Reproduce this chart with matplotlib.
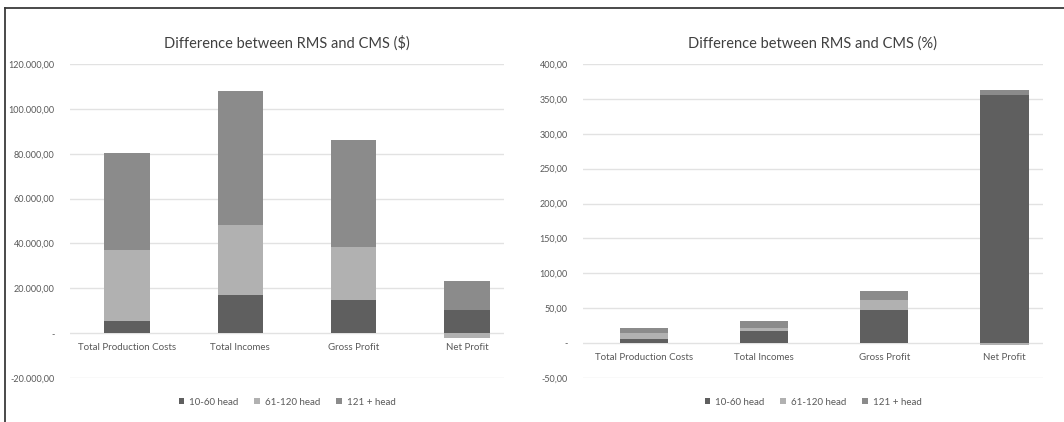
"""Two stacked bar charts: RMS vs CMS difference in $ and in %."""

import matplotlib.pyplot as plt
from matplotlib.lines import Line2D
from matplotlib.ticker import FuncFormatter

CATEGORIES = ["Total Production Costs", "Total Incomes", "Gross Profit", "Net Profit"]
SERIES = ["10-60 head", "61-120 head", "121 + head"]

USD_10_60 = [5400, 17000, 14900, 10100]
USD_61_120 = [31600, 31200, 23700, -2200]
USD_121 = [43100, 59700, 47700, 13100]

PCT_10_60 = [6.5, 17, 48, 356]
PCT_61_120 = [7.5, 5, 14, -3]
PCT_121 = [7.5, 9, 13, 7]

COLORS = ["#5f5f5f", "#b1b1b1", "#8b8b8b"]
TEXT = "#595959"
GRID = "#e2e2e2"

plt.rcParams["font.family"] = ["Lato", "DejaVu Sans"]


def euro_fmt(v, _pos=None):
    if abs(v) < 1e-9:
        return "-"
    s = f"{v:,.2f}"
    return s.replace(",", "X").replace(".", ",").replace("X", ".")


def stacked(ax, series_values, ylim, ticks, title, xlim):
    pos_bottom = [0.0] * len(CATEGORIES)
    neg_bottom = [0.0] * len(CATEGORIES)
    xs = list(range(len(CATEGORIES)))
    for vals, color, name in zip(series_values, COLORS, SERIES):
        bottoms = [pb if v >= 0 else nb for v, pb, nb in zip(vals, pos_bottom, neg_bottom)]
        ax.bar(xs, vals, bottom=bottoms, width=0.4, color=color, label=name,
               zorder=3, linewidth=0)
        for i, v in enumerate(vals):
            if v >= 0:
                pos_bottom[i] += v
            else:
                neg_bottom[i] += v

    ax.set_ylim(*ylim)
    ax.set_xlim(*xlim)
    ax.set_yticks(ticks)
    ax.yaxis.set_major_formatter(FuncFormatter(euro_fmt))
    ax.tick_params(axis="y", length=0, labelsize=6.5, labelcolor=TEXT, pad=11)
    ax.set_xticks([])
    for t in ticks:
        ax.axhline(t, color=GRID, linewidth=1.0, zorder=1)
    for side in ax.spines.values():
        side.set_visible(False)
    for x, name in zip(xs, CATEGORIES):
        ax.annotate(name, (x, 0), xytext=(0, -7), textcoords="offset points",
                    ha="center", va="top", fontsize=7, color=TEXT)
    ax.set_title(title, fontsize=10.5, color="#404040", pad=12)
    ax.legend(loc="upper center", bbox_to_anchor=(0.5, -0.035), ncol=3,
              frameon=False, fontsize=7, handlelength=0.6, handleheight=0.6,
              handletextpad=0.5, columnspacing=1.6, labelcolor=TEXT)


fig = plt.figure(figsize=(10.64, 4.22), dpi=100)

ax_usd = fig.add_axes([70 / 1064, 44 / 422, 434 / 1064, 314 / 422])
stacked(ax_usd, [USD_10_60, USD_61_120, USD_121], (-20000, 120000),
        list(range(-20000, 120001, 20000)),
        "Difference between RMS and CMS ($)", (-0.503, 3.327))

ax_pct = fig.add_axes([583 / 1064, 44 / 422, 460 / 1064, 314 / 422])
stacked(ax_pct, [PCT_10_60, PCT_61_120, PCT_121], (-50, 400),
        list(range(-50, 401, 50)),
        "Difference between RMS and CMS (%)", (-0.507, 3.32))

# frame lines of the pasted screenshot
fig.add_artist(Line2D([5 / 1064, 1.0], [1 - 8 / 422, 1 - 8 / 422],
                      color="#3a3a3a", linewidth=1.3))
fig.add_artist(Line2D([5 / 1064, 5 / 1064], [0.0, 1 - 8 / 422],
                      color="#3a3a3a", linewidth=1.3))

fig.savefig("out.png", dpi=100)
